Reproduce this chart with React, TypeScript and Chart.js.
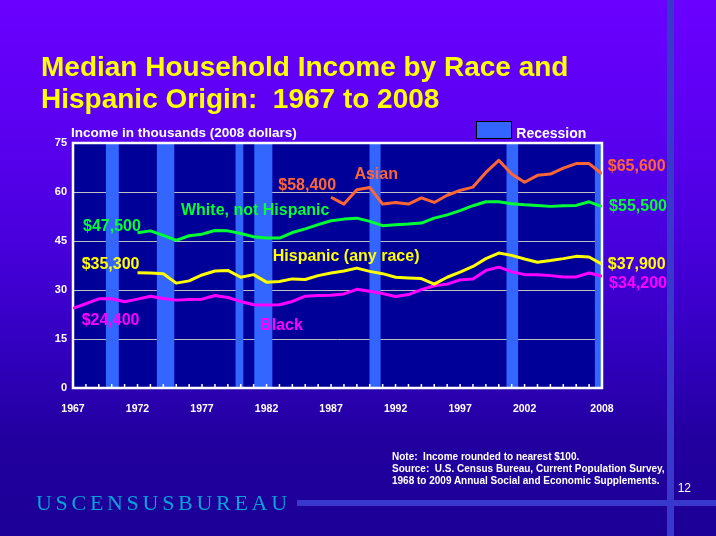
import React, { useEffect, useRef } from "react";
import { Chart, registerables } from "chart.js";

Chart.register(...registerables);

// ---------- data (thousands of 2008 dollars) ----------
const YEARS = [
  1967, 1968, 1969, 1970, 1971, 1972, 1973, 1974, 1975, 1976, 1977, 1978, 1979, 1980,
  1981, 1982, 1983, 1984, 1985, 1986, 1987, 1988, 1989, 1990, 1991, 1992, 1993, 1994,
  1995, 1996, 1997, 1998, 1999, 2000, 2001, 2002, 2003, 2004, 2005, 2006, 2007, 2008,
];

const ASIAN = [
  null, null, null, null, null, null, null, null, null, null, null, null, null, null,
  null, null, null, null, null, null, 58.4, 56.3, 60.7, 61.4, 56.3, 56.8, 56.3, 58.2,
  56.8, 59.0, 60.5, 61.5, 66.0, 69.7, 65.5, 63.0, 65.1, 65.5, 67.3, 68.7, 68.7, 65.6,
];

const WHITE_NOT_HISPANIC = [
  null, null, null, null, null, 47.5, 48.1, 46.7, 45.2, 46.6, 47.1, 48.2, 48.1, 47.3,
  46.3, 45.9, 45.9, 47.6, 48.7, 50.0, 51.2, 51.7, 52.0, 51.0, 49.7, 50.0, 50.2, 50.5,
  52.0, 53.0, 54.3, 55.8, 57.0, 57.0, 56.4, 56.1, 55.9, 55.6, 55.8, 55.9, 57.0, 55.5,
];

const HISPANIC = [
  null, null, null, null, null, 35.3, 35.2, 35.0, 32.1, 32.8, 34.6, 35.8, 36.0, 33.9,
  34.7, 32.4, 32.6, 33.4, 33.2, 34.4, 35.2, 35.8, 36.7, 35.7, 35.0, 33.9, 33.7, 33.5,
  31.8, 33.9, 35.5, 37.2, 39.6, 41.3, 40.6, 39.5, 38.5, 39.0, 39.6, 40.3, 40.1, 37.9,
];

const BLACK = [
  24.4, 25.8, 27.3, 27.3, 26.4, 27.2, 28.1, 27.4, 26.9, 27.1, 27.2, 28.3, 27.7, 26.5,
  25.5, 25.4, 25.5, 26.5, 28.1, 28.3, 28.4, 28.8, 30.2, 29.6, 28.9, 28.0, 28.6, 30.1,
  31.3, 31.8, 33.1, 33.4, 36.0, 37.0, 35.6, 34.7, 34.7, 34.4, 34.0, 34.0, 35.2, 34.2,
];

const RECESSION_START = [1969.55, 1973.5, 1979.6, 1981.05, 1989.98, 2000.6, 2007.45];
const RECESSION_END = [1970.55, 1974.85, 1980.2, 1982.45, 1990.84, 2001.5, 2008];

const X_TICK_LABELS = [1967, 1972, 1977, 1982, 1987, 1992, 1997, 2002, 2008];
const Y_TICK_LABELS = [0, 15, 30, 45, 60, 75];

// ---------- styling ----------
const FONT = '"Liberation Sans", Arial, Helvetica, sans-serif';
const C_ASIAN = "#ff6633";
const C_WHITE = "#00ff33";
const C_HISP = "#ffff00";
const C_BLACK = "#ff00ff";

// annotation labels anchored in data space (year, value = text baseline)
const ANNOTATIONS = [
  { text: "$47,500", year: 1967.78, value: 48.2, color: C_WHITE },
  { text: "White, not Hispanic", year: 1975.37, value: 52.96, color: C_WHITE },
  { text: "$58,400", year: 1982.91, value: 60.7, color: C_ASIAN },
  { text: "Asian", year: 1988.81, value: 63.9, color: C_ASIAN },
  { text: "$35,300", year: 1967.67, value: 36.4, color: C_HISP },
  { text: "Hispanic (any race)", year: 1982.48, value: 38.9, color: C_HISP },
  { text: "$24,400", year: 1967.67, value: 19.4, color: C_BLACK },
  { text: "Black", year: 1981.5, value: 17.76, color: C_BLACK },
  { text: "$65,600", year: 2008.45, value: 66.3, color: C_ASIAN },
  { text: "$55,500", year: 2008.55, value: 54.3, color: C_WHITE },
  { text: "$37,900", year: 2008.45, value: 36.4, color: C_HISP },
  { text: "$34,200", year: 2008.55, value: 30.6, color: C_BLACK },
];

const decorPlugin = {
  id: "decor",
  beforeDraw(chart: any) {
    const { ctx, chartArea: a } = chart;
    ctx.save();
    ctx.fillStyle = "#000099";
    ctx.fillRect(a.left, a.top, a.right - a.left, a.bottom - a.top);
    ctx.restore();
  },
  beforeDatasetsDraw(chart: any) {
    const { ctx, chartArea: a, scales } = chart;
    const xs = scales.x;
    ctx.save();
    // recession bands
    ctx.fillStyle = "#3366ff";
    for (let i = 0; i < RECESSION_START.length; i++) {
      const x0 = xs.getPixelForValue(RECESSION_START[i]);
      const x1 = xs.getPixelForValue(RECESSION_END[i]);
      ctx.fillRect(x0, a.top, x1 - x0, a.bottom - a.top);
    }
    // inner year ticks
    ctx.strokeStyle = "#ffffff";
    ctx.lineWidth = 1.5;
    for (let i = 1; i < YEARS.length - 1; i++) {
      const px = xs.getPixelForValue(YEARS[i]);
      ctx.beginPath();
      ctx.moveTo(px, a.bottom);
      ctx.lineTo(px, a.bottom - 4);
      ctx.stroke();
    }
    // frame
    ctx.lineWidth = 2.5;
    ctx.strokeRect(a.left, a.top, a.right - a.left, a.bottom - a.top);
    ctx.restore();
  },
  afterDraw(chart: any) {
    const { ctx, scales } = chart;
    ctx.save();
    ctx.font = `bold 16px ${FONT}`;
    ctx.textAlign = "left";
    ctx.textBaseline = "alphabetic";
    for (const l of ANNOTATIONS) {
      ctx.fillStyle = l.color;
      ctx.fillText(l.text, scales.x.getPixelForValue(l.year), scales.y.getPixelForValue(l.value));
    }
    ctx.restore();
  },
};

function series(label: string, values: (number | null)[], color: string) {
  return {
    label,
    data: YEARS.map((yr, i) => ({ x: yr, y: values[i] })),
    borderColor: color,
    backgroundColor: color,
    borderWidth: 3,
    pointRadius: 0,
    tension: 0,
    spanGaps: false,
    borderJoinStyle: "round" as const,
  };
}

export default function App() {
  const ref = useRef<HTMLCanvasElement | null>(null);

  useEffect(() => {
    if (!ref.current) return;
    const chart = new Chart(ref.current, {
      type: "line",
      data: {
        datasets: [
          series("Asian", ASIAN, C_ASIAN),
          series("White, not Hispanic", WHITE_NOT_HISPANIC, C_WHITE),
          series("Hispanic (any race)", HISPANIC, C_HISP),
          series("Black", BLACK, C_BLACK),
        ],
      },
      options: {
        responsive: false,
        animation: false,
        layout: { padding: { top: 143, right: 114, bottom: 118, left: 0 } },
        plugins: { legend: { display: false }, tooltip: { enabled: false } },
        scales: {
          x: {
            type: "linear",
            min: 1967,
            max: 2008,
            afterBuildTicks: (s: any) => {
              s.ticks = X_TICK_LABELS.map((v) => ({ value: v }));
            },
            afterFit: (s: any) => {
              s.height = 30;
            },
            grid: { display: false, drawTicks: false },
            border: { display: false },
            ticks: {
              autoSkip: false,
              maxRotation: 0,
              padding: 15,
              color: "#ffffff",
              font: { family: FONT, size: 10.5, weight: "bold" },
              callback: (v: any) => String(v),
            },
          },
          y: {
            min: 0,
            max: 75,
            afterBuildTicks: (s: any) => {
              s.ticks = Y_TICK_LABELS.map((v) => ({ value: v }));
            },
            afterFit: (s: any) => {
              s.width = 73;
            },
            grid: {
              drawTicks: false,
              lineWidth: 1,
              color: (c: any) =>
                c.tick && (c.tick.value === 0 || c.tick.value === 75) ? "rgba(0,0,0,0)" : "#c0c0c0",
            },
            border: { display: false },
            ticks: {
              padding: 6,
              color: "#ffffff",
              font: { family: FONT, size: 11, weight: "bold" },
              callback: (v: any) => String(v),
            },
          },
        },
      },
      plugins: [decorPlugin],
    });
    return () => chart.destroy();
  }, []);

  const abs = (s: React.CSSProperties): React.CSSProperties => ({ position: "absolute", margin: 0, ...s });

  return (
    <div
      style={{
        position: "fixed",
        left: 0,
        top: 0,
        width: 716,
        height: 536,
        overflow: "hidden",
        background:
          "linear-gradient(180deg, #6a00ff 0%, #5c00f2 22%, #4800dc 45%, #3200bf 65%, #22009f 82%, #1c0096 100%)",
        fontFamily: FONT,
      }}
    >
      {/* decorative stripes */}
      <div style={abs({ left: 667, top: 0, width: 7, height: 536, background: "#3838cc" })} />
      <div style={abs({ left: 297, top: 500, width: 419, height: 6, background: "#3838cc" })} />

      <canvas ref={ref} width={716} height={536} style={abs({ left: 0, top: 0, width: 716, height: 536 })} />

      <div
        style={abs({
          left: 41,
          top: 51,
          color: "#ffff00",
          fontWeight: "bold",
          fontSize: 28,
          lineHeight: "31.5px",
          whiteSpace: "pre",
        })}
      >
        {"Median Household Income by Race and\nHispanic Origin:  1967 to 2008"}
      </div>

      <div style={abs({ left: 71, top: 125.6, color: "#ffffff", fontWeight: "bold", fontSize: 13.5, lineHeight: "13.5px", whiteSpace: "pre" })}>
        Income in thousands (2008 dollars)
      </div>

      <div style={abs({ left: 476, top: 121, width: 36, height: 18, boxSizing: "border-box", border: "1px solid #000", background: "#3366ff" })} />
      <div style={abs({ left: 516.3, top: 126.2, color: "#ffffff", fontWeight: "bold", fontSize: 14, lineHeight: "14px", whiteSpace: "pre" })}>
        Recession
      </div>

      <div style={abs({ left: 392, top: 450.5, color: "#ffffff", fontWeight: "bold", fontSize: 10, lineHeight: "12px", whiteSpace: "pre" })}>
        {"Note:  Income rounded to nearest $100.\nSource:  U.S. Census Bureau, Current Population Survey,\n1968 to 2009 Annual Social and Economic Supplements."}
      </div>

      <div style={abs({ left: 677.7, top: 481.8, color: "#ffffff", fontSize: 12, lineHeight: "12px" })}>12</div>

      <div
        style={abs({
          left: 36,
          top: 492,
          color: "#0aa0dc",
          fontFamily: '"Liberation Serif", "DejaVu Serif", serif',
          fontSize: 22,
          lineHeight: "22px",
          letterSpacing: "3.7px",
          whiteSpace: "pre",
        })}
      >
        USCENSUSBUREAU
      </div>
    </div>
  );
}
